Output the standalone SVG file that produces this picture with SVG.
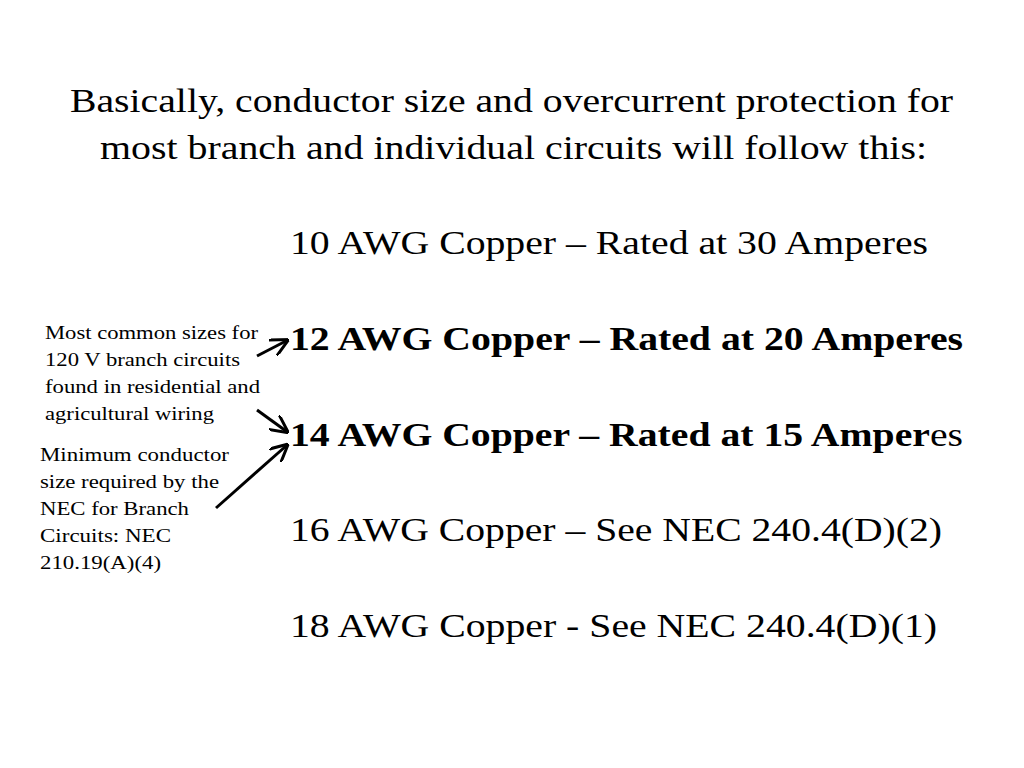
<svg xmlns="http://www.w3.org/2000/svg" width="1024" height="768" viewBox="0 0 1024 768">
<style>
text{font-family:"Liberation Serif","Times New Roman",serif;fill:#000}
.t{font-size:34px}
.m{font-size:33px}
.b{font-weight:bold}
.s{font-size:19.5px}
.c{stroke:#000;stroke-width:3;fill:none}
</style>
<defs><marker id="a" markerWidth="6" markerHeight="6" refX="5" refY="3" orient="auto" markerUnits="strokeWidth"><path d="M0,0 L6,3 L0,6" fill="none" stroke="#000" stroke-width="1"/></marker></defs>
<rect width="1024" height="768" fill="#fff"/>
<g id="title"><text class="t" x="70" y="112" textLength="883" lengthAdjust="spacingAndGlyphs">Basically, conductor size and overcurrent protection for</text><text class="t" x="100" y="159" textLength="827" lengthAdjust="spacingAndGlyphs">most branch and individual circuits will follow this:</text></g>
<g id="n10"><text class="m" x="290" y="254" textLength="638" lengthAdjust="spacingAndGlyphs">10 AWG Copper – Rated at 30 Amperes</text></g>
<g id="n12"><text class="m b" x="290" y="350" textLength="673" lengthAdjust="spacingAndGlyphs">12 AWG Copper – Rated at 20 Amperes</text></g>
<g id="n14"><text class="m" x="290" y="446" textLength="673" lengthAdjust="spacingAndGlyphs"><tspan class="b">14 AWG Copper – Rated at 15 Amper</tspan>es</text></g>
<g id="n16"><text class="m" x="290" y="541" textLength="652" lengthAdjust="spacingAndGlyphs">16 AWG Copper – See NEC 240.4(D)(2)</text></g>
<g id="n18"><text class="m" x="290" y="637" textLength="647" lengthAdjust="spacingAndGlyphs">18 AWG Copper - See NEC 240.4(D)(1)</text></g>
<g id="note1"><text class="s" x="45" y="339" textLength="213" lengthAdjust="spacingAndGlyphs">Most common sizes for</text><text class="s" x="45" y="366" textLength="195" lengthAdjust="spacingAndGlyphs">120 V branch circuits</text><text class="s" x="45" y="393" textLength="215" lengthAdjust="spacingAndGlyphs">found in residential and</text><text class="s" x="45" y="420" textLength="169" lengthAdjust="spacingAndGlyphs">agricultural wiring</text></g>
<g id="note2"><text class="s" x="40" y="461" textLength="189" lengthAdjust="spacingAndGlyphs">Minimum conductor</text><text class="s" x="40" y="488" textLength="179" lengthAdjust="spacingAndGlyphs">size required by the</text><text class="s" x="40" y="515" textLength="149" lengthAdjust="spacingAndGlyphs">NEC for Branch</text><text class="s" x="40" y="542" textLength="131" lengthAdjust="spacingAndGlyphs">Circuits: NEC</text><text class="s" x="40" y="569" textLength="121" lengthAdjust="spacingAndGlyphs">210.19(A)(4)</text></g>
<g id="connectors">
<line class="c" x1="257" y1="356" x2="286" y2="341" marker-end="url(#a)"/>
<line class="c" x1="257" y1="410" x2="286" y2="431" marker-end="url(#a)"/>
<line class="c" x1="216" y1="508" x2="286" y2="446" marker-end="url(#a)"/>
</g>
</svg>
